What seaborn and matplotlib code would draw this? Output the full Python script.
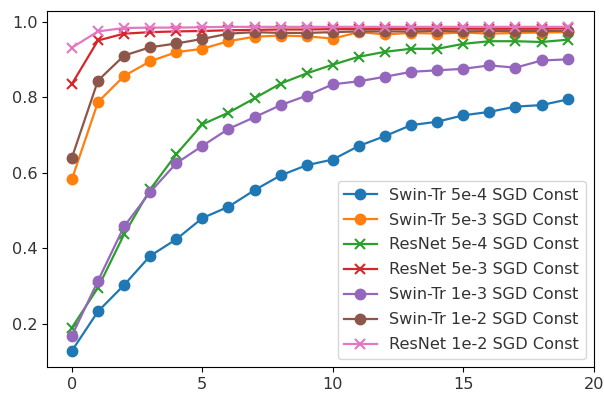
import numpy as np
import matplotlib
matplotlib.use("Agg")
import matplotlib.pyplot as plt
import seaborn as sns

epochs = list(range(20))

swin_5e4 = [0.129, 0.233, 0.303, 0.380, 0.424, 0.480, 0.510, 0.554, 0.593, 0.620,
            0.635, 0.671, 0.697, 0.726, 0.735, 0.752, 0.761, 0.775, 0.779, 0.794]
swin_5e3 = [0.583, 0.787, 0.856, 0.895, 0.919, 0.928, 0.948, 0.960, 0.963, 0.961,
            0.955, 0.972, 0.966, 0.970, 0.968, 0.971, 0.968, 0.970, 0.971, 0.972]
resnet_5e4 = [0.190, 0.296, 0.437, 0.556, 0.649, 0.728, 0.759, 0.797, 0.836, 0.863,
              0.886, 0.907, 0.920, 0.928, 0.928, 0.941, 0.948, 0.948, 0.946, 0.952]
resnet_5e3 = [0.835, 0.950, 0.968, 0.972, 0.974, 0.975, 0.977, 0.978, 0.979, 0.979,
              0.980, 0.980, 0.980, 0.981, 0.981, 0.981, 0.981, 0.981, 0.981, 0.982]
swin_1e3 = [0.169, 0.314, 0.458, 0.549, 0.625, 0.671, 0.716, 0.747, 0.779, 0.804,
            0.834, 0.842, 0.854, 0.867, 0.871, 0.875, 0.884, 0.878, 0.897, 0.900]
swin_1e2 = [0.640, 0.844, 0.910, 0.932, 0.942, 0.954, 0.968, 0.972, 0.970, 0.970,
            0.972, 0.974, 0.974, 0.974, 0.975, 0.974, 0.975, 0.975, 0.975, 0.976]
resnet_1e2 = [0.931, 0.974, 0.983, 0.984, 0.984, 0.985, 0.986, 0.986, 0.986, 0.986,
              0.986, 0.986, 0.986, 0.986, 0.986, 0.986, 0.986, 0.986, 0.986, 0.986]

runs = [
  ("Swin-Tr 5e-4 SGD Const", swin_5e4, "o"),
  ("Swin-Tr 5e-3 SGD Const", swin_5e3, "o"),
  ("ResNet 5e-4 SGD Const", resnet_5e4, "x"),
  ("ResNet 5e-3 SGD Const", resnet_5e3, "x"),
  ("Swin-Tr 1e-3 SGD Const", swin_1e3, "o"),
  ("Swin-Tr 1e-2 SGD Const", swin_1e2, "o"),
  ("ResNet 1e-2 SGD Const", resnet_1e2, "x"),
]

plt.rcParams['font.size'] = 11.6
plt.rcParams['text.color'] = '#333333'
plt.rcParams['xtick.labelcolor'] = '#333333'
plt.rcParams['ytick.labelcolor'] = '#333333'

colors = sns.color_palette("tab10", len(runs))

fig = plt.figure(figsize=(6.04, 3.95), dpi=100)
ax = fig.add_axes([0.078, 0.071, 0.905, 0.902])

for (label, values, marker), color in zip(runs, colors):
  sns.lineplot(x=epochs, y=values, marker=marker, color=color, label=label,
               markersize=7.5, markeredgecolor=color, markeredgewidth=1.5 if marker == "x" else 1,
               linewidth=1.6, ax=ax)

ax.set_xlim(-0.95, 20.0)
ax.set_xticks([0, 5, 10, 15, 20])
ax.set_yticks([0.2, 0.4, 0.6, 0.8, 1.0])
ax.legend(loc="lower right", labelspacing=0.62)

fig.savefig("out.png", dpi=100)
